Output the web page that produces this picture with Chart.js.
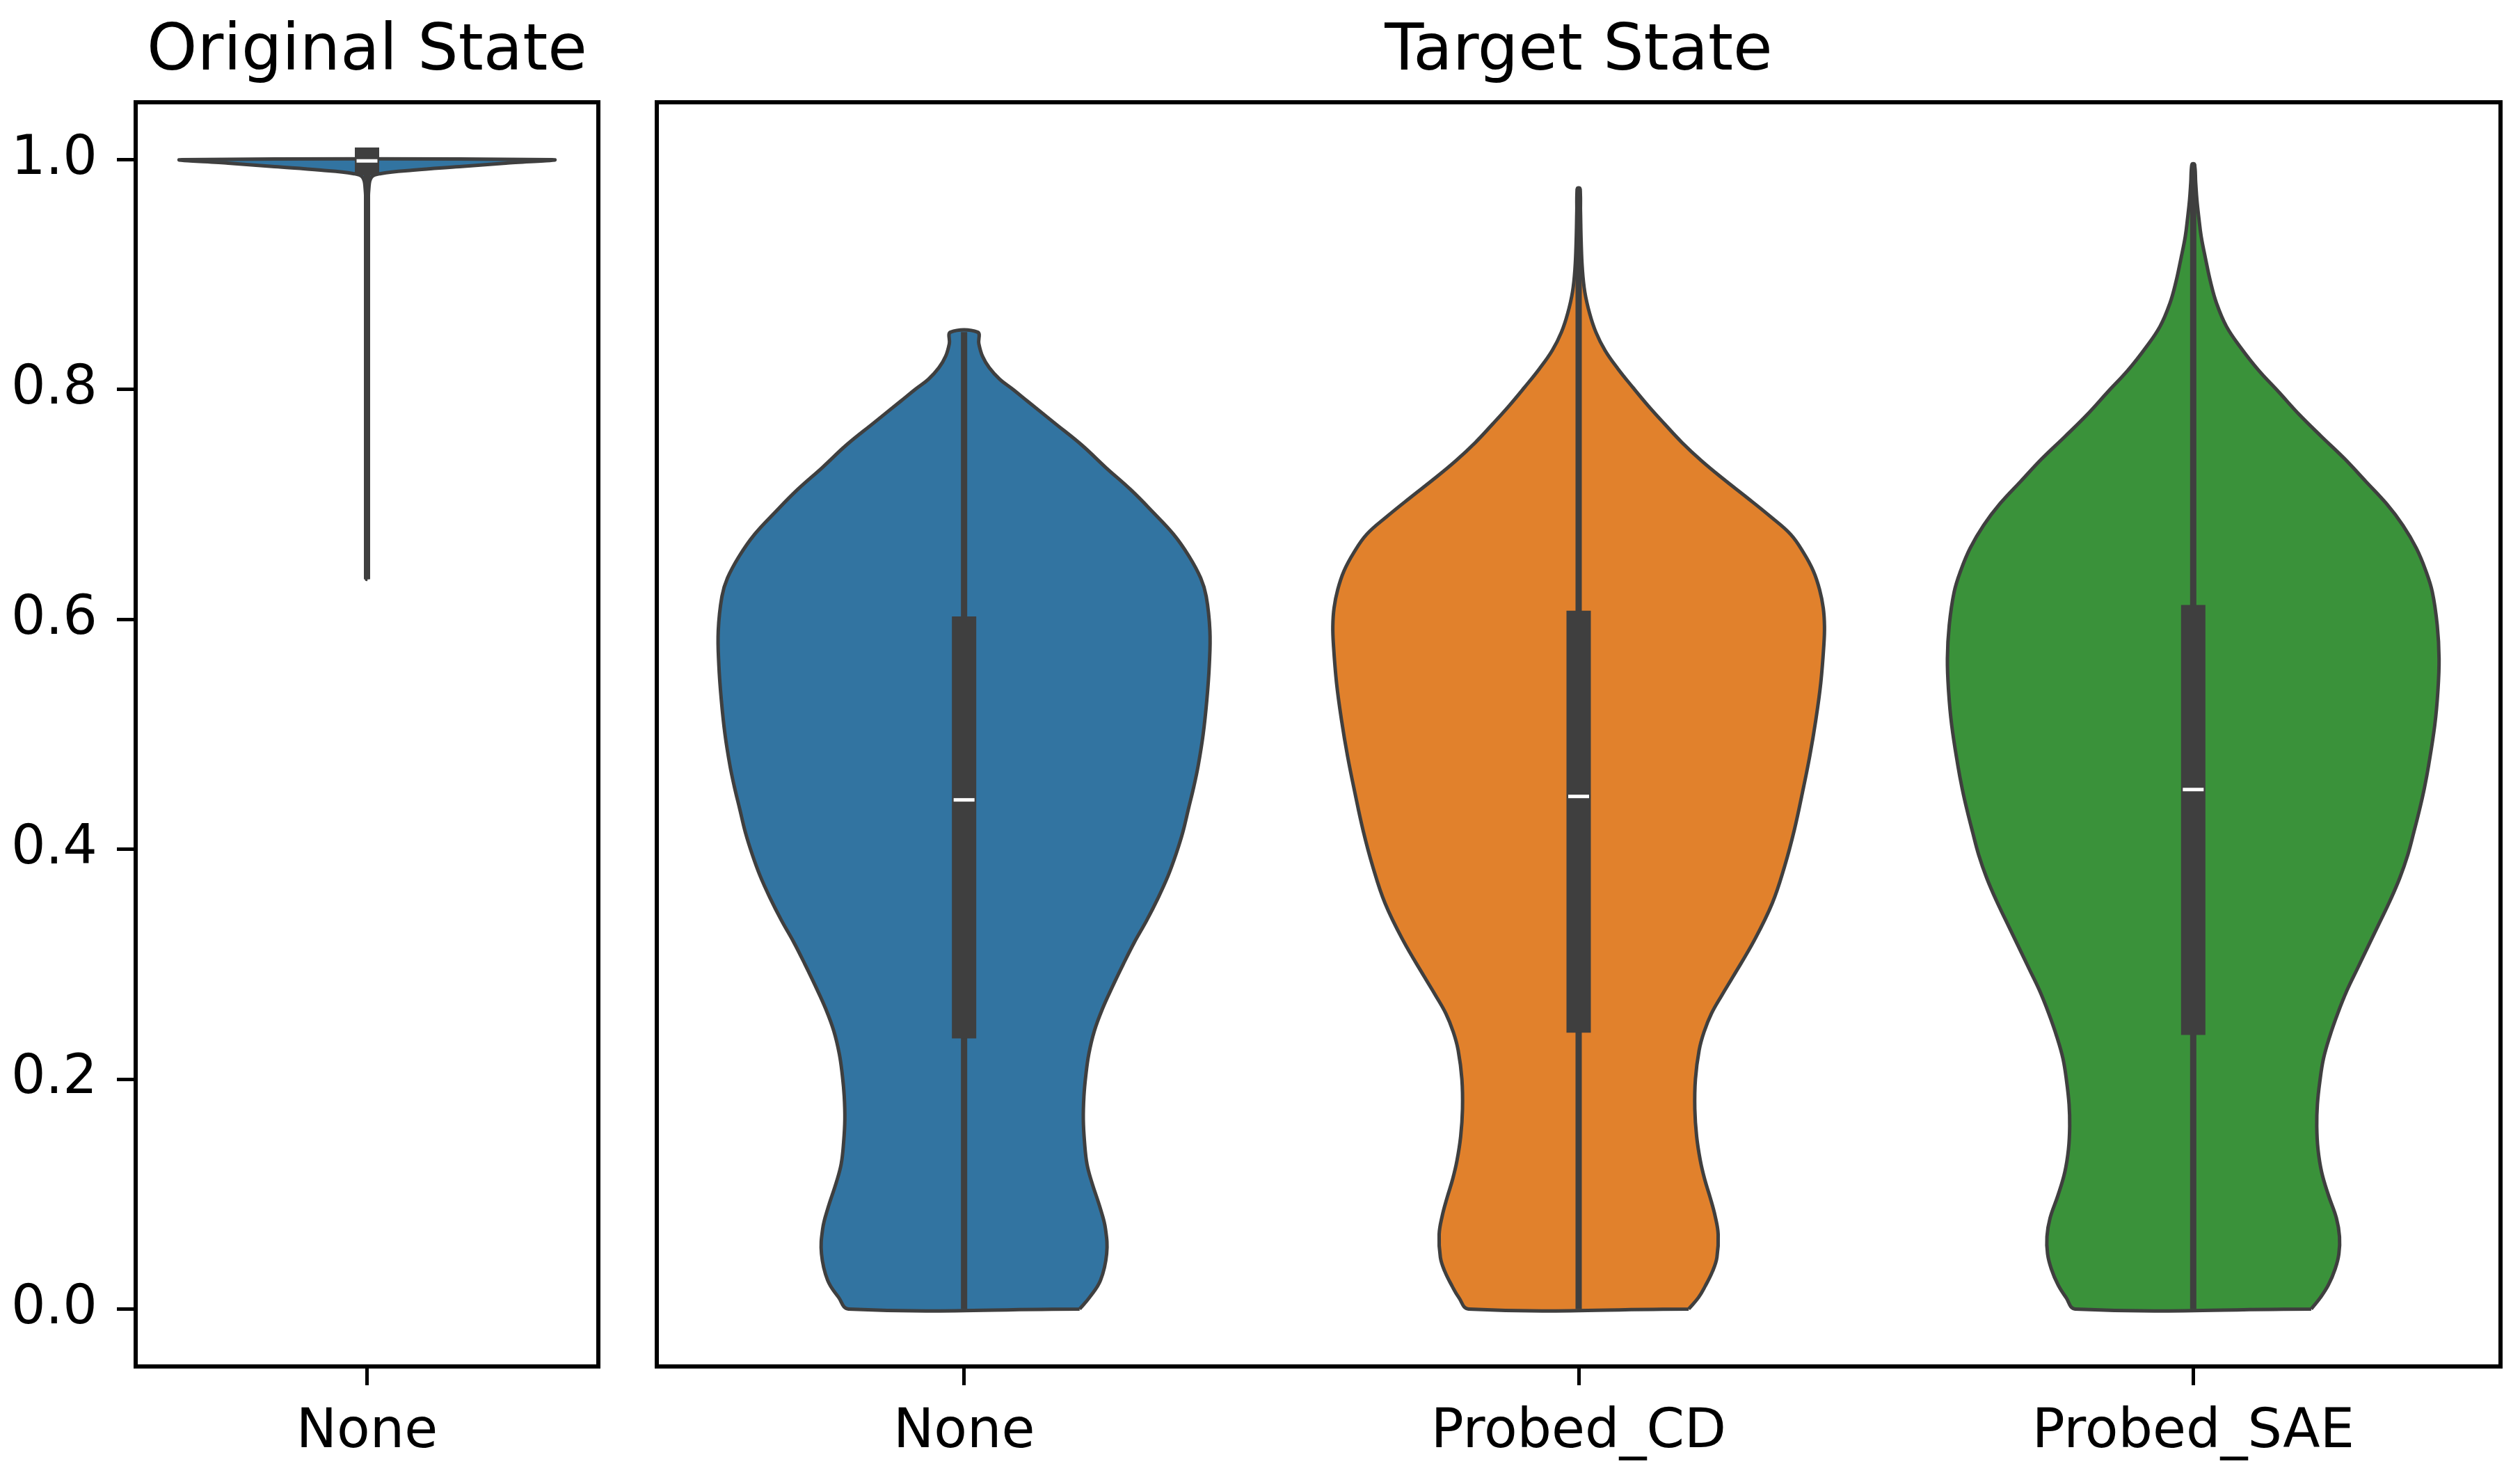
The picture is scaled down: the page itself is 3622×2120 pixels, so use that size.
<!DOCTYPE html>
<html>
<head>
<meta charset="utf-8">
<script src="https://cdn.jsdelivr.net/npm/chart.js@4.4.0/dist/chart.umd.min.js"></script>
<style>
  body { margin: 0; background: #fff; }
  .panel { position: absolute; top: 0; height: 2120px; }
</style>
</head>
<body>
<div class="panel" style="left:0;width:880px"><canvas id="origChart"></canvas></div>
<div class="panel" style="left:880px;width:2742px"><canvas id="targetChart"></canvas></div>
<script>
// categories and tick labels
const origCats = ["None"];
const targetCats = ["None", "Probed_CD", "Probed_SAE"];
const yTicks = [0.0, 0.2, 0.4, 0.6, 0.8, 1.0];
const violinColors = ["#3274a1", "#e1812c", "#3a923a"];

// violin outlines: value along y, half width (category units)
const origNoneY = [0.635, 0.7, 0.8, 0.9, 0.95, 0.975, 0.985, 0.988, 0.991, 0.994, 0.997, 1.0];
const origNoneW = [0.001, 0.001, 0.001, 0.001, 0.002, 0.004, 0.01, 0.03, 0.1, 0.2, 0.3, 0.4];

const noneY = [0, 0.010, 0.025, 0.048, 0.070, 0.087, 0.110, 0.126, 0.145, 0.165, 0.185, 0.203, 0.222, 0.242, 0.261, 0.280, 0.300, 0.319, 0.338, 0.358, 0.377, 0.396, 0.415, 0.435, 0.455, 0.473, 0.500, 0.530, 0.560, 0.590, 0.620, 0.636, 0.655, 0.674, 0.693, 0.713, 0.732, 0.752, 0.771, 0.790, 0.800, 0.809, 0.819, 0.829, 0.840, 0.850];
const noneW = [0.188, 0.204, 0.222, 0.232, 0.230, 0.222, 0.208, 0.200, 0.196, 0.194, 0.195, 0.198, 0.203, 0.212, 0.225, 0.241, 0.259, 0.277, 0.297, 0.316, 0.332, 0.345, 0.356, 0.365, 0.374, 0.381, 0.389, 0.395, 0.399, 0.400, 0.394, 0.385, 0.366, 0.341, 0.308, 0.271, 0.231, 0.191, 0.147, 0.103, 0.080, 0.058, 0.041, 0.030, 0.024, 0.022];

const cdY = [0, 0.010, 0.020, 0.033, 0.045, 0.065, 0.081, 0.097, 0.113, 0.129, 0.150, 0.174, 0.200, 0.225, 0.241, 0.257, 0.273, 0.289, 0.321, 0.353, 0.385, 0.417, 0.449, 0.481, 0.513, 0.545, 0.578, 0.594, 0.610, 0.626, 0.642, 0.658, 0.674, 0.690, 0.706, 0.722, 0.738, 0.754, 0.770, 0.786, 0.802, 0.818, 0.834, 0.850, 0.866, 0.885, 0.905, 0.930, 0.955, 0.975];
const cdW = [0.179, 0.195, 0.206, 0.218, 0.225, 0.227, 0.222, 0.214, 0.205, 0.198, 0.192, 0.189, 0.190, 0.196, 0.204, 0.216, 0.233, 0.251, 0.286, 0.315, 0.335, 0.351, 0.364, 0.376, 0.386, 0.394, 0.399, 0.400, 0.398, 0.392, 0.382, 0.366, 0.345, 0.311, 0.274, 0.236, 0.200, 0.168, 0.140, 0.113, 0.088, 0.064, 0.043, 0.028, 0.018, 0.010, 0.006, 0.004, 0.003, 0.002];

const saeY = [0, 0.010, 0.021, 0.035, 0.048, 0.063, 0.079, 0.099, 0.119, 0.139, 0.159, 0.178, 0.198, 0.218, 0.237, 0.257, 0.277, 0.296, 0.316, 0.336, 0.355, 0.375, 0.395, 0.415, 0.434, 0.453, 0.473, 0.508, 0.537, 0.566, 0.595, 0.624, 0.643, 0.662, 0.682, 0.701, 0.720, 0.740, 0.759, 0.778, 0.798, 0.817, 0.836, 0.855, 0.875, 0.894, 0.914, 0.933, 0.950, 0.965, 0.980, 0.996];
const saeW = [0.192, 0.207, 0.220, 0.231, 0.237, 0.238, 0.233, 0.220, 0.209, 0.203, 0.201, 0.202, 0.206, 0.212, 0.222, 0.235, 0.250, 0.267, 0.285, 0.303, 0.320, 0.336, 0.349, 0.359, 0.368, 0.376, 0.383, 0.393, 0.398, 0.400, 0.397, 0.389, 0.378, 0.363, 0.341, 0.314, 0.281, 0.246, 0.209, 0.173, 0.139, 0.106, 0.078, 0.054, 0.038, 0.028, 0.020, 0.013, 0.009, 0.006, 0.004, 0.002];

// inner box stats: [min, q1, median, q3, max]
const origNoneStats = [0.635, 0.997, 0.999, 1.0, 1.0];
const noneStats = [0.0, 0.246, 0.443, 0.592, 0.850];
const cdStats = [0.0, 0.251, 0.446, 0.597, 0.975];
const saeStats = [0.0, 0.249, 0.452, 0.602, 0.996];

const lineColor = "#3f3f3f";
Chart.defaults.font.family = "'DejaVu Sans', sans-serif";
Chart.defaults.color = "#000";

// closed outline for one violin around category position c
function violinPoints(c, ys, ws) {
  const pts = [];
  for (let i = 0; i < ys.length; i++) pts.push({ x: c + ws[i], y: ys[i] });
  for (let i = ys.length - 1; i >= 0; i--) pts.push({ x: c - ws[i], y: ys[i] });
  pts.push(pts[0]);
  return pts;
}

function violinDatasets(c, ys, ws, stats, color) {
  return [
    {
      data: violinPoints(c, ys, ws),
      backgroundColor: color,
      borderColor: lineColor,
      borderWidth: 5,
      fill: "shape",
      tension: 0.4,
      pointRadius: 0,
      order: 3,
    },
    {
      // whisker
      data: [{ x: c, y: stats[0] }, { x: c, y: stats[4] }],
      borderColor: lineColor,
      borderWidth: 9,
      borderCapStyle: "butt",
      pointRadius: 0,
      fill: false,
      order: 2,
    },
    {
      // box
      data: [{ x: c, y: stats[1] }, { x: c, y: stats[3] }],
      borderColor: lineColor,
      borderWidth: 35,
      borderCapStyle: "square",
      pointRadius: 0,
      fill: false,
      order: 1,
    },
    {
      // median
      data: [{ x: c, y: stats[2] }],
      showLine: false,
      pointStyle: "line",
      pointRadius: 15,
      pointBorderWidth: 5,
      pointBorderColor: "#fff",
      order: 0,
    },
  ];
}

// draws the top and right spines too
const framePlugin = {
  id: "frame",
  afterDraw(chart) {
    const a = chart.chartArea;
    const ctx = chart.ctx;
    ctx.save();
    ctx.strokeStyle = "#000";
    ctx.lineWidth = 6;
    ctx.strokeRect(a.left, a.top, a.right - a.left, a.bottom - a.top);
    ctx.restore();
  },
};

// title centred over the plot area, not the whole canvas
function panelTitle(text) {
  return {
    id: "panelTitle",
    afterDraw(chart) {
      const a = chart.chartArea;
      const ctx = chart.ctx;
      ctx.save();
      ctx.font = "92px 'DejaVu Sans', sans-serif";
      ctx.fillStyle = "#000";
      ctx.textAlign = "center";
      ctx.textBaseline = "middle";
      ctx.fillText(text, (a.left + a.right) / 2, 76);
      ctx.restore();
    },
  };
}

function makeChart(canvasId, title, cats, datasets, yAxisWidth, padRight, showY) {
  return new Chart(document.getElementById(canvasId), {
    type: "line",
    data: { datasets: datasets },
    plugins: [framePlugin, panelTitle(title)],
    options: {
      responsive: true,
      maintainAspectRatio: false,
      animation: false,
      layout: { padding: { left: 0, right: padRight, top: 147, bottom: 0 } },
      plugins: {
        legend: { display: false },
        tooltip: { enabled: false },
        title: { display: false },
      },
      scales: {
        x: {
          type: "linear",
          min: -0.5,
          max: cats.length - 0.5,
          afterBuildTicks: (axis) => {
            axis.ticks = cats.map((c, i) => ({ value: i }));
          },
          afterFit: (axis) => {
            axis.height = 156;
          },
          ticks: {
            callback: (v) => cats[v],
            font: { size: 78 },
            color: "#000",
            padding: 22,
            maxRotation: 0,
            autoSkip: false,
          },
          grid: {
            display: true,
            drawOnChartArea: false,
            drawTicks: true,
            tickLength: 27,
            tickWidth: 5,
            tickColor: "#000",
          },
          border: { display: true, color: "#000", width: 6 },
        },
        y: {
          type: "linear",
          min: -0.05,
          max: 1.05,
          afterBuildTicks: (axis) => {
            axis.ticks = yTicks.map((v) => ({ value: v }));
          },
          afterFit: (axis) => {
            axis.width = yAxisWidth;
          },
          ticks: {
            display: showY,
            callback: (v) => v.toFixed(1),
            font: { size: 78 },
            color: "#000",
            padding: 28,
          },
          grid: {
            display: showY,
            drawOnChartArea: false,
            drawTicks: true,
            tickLength: 27,
            tickWidth: 5,
            tickColor: "#000",
          },
          border: { display: true, color: "#000", width: 6 },
        },
      },
    },
  });
}

// left panel: original state
makeChart(
  "origChart",
  "Original State",
  origCats,
  violinDatasets(0, origNoneY, origNoneW, origNoneStats, violinColors[0]),
  195,
  19,
  true
);

// right panel: target state
const targetSets = []
  .concat(violinDatasets(0, noneY, noneW, noneStats, violinColors[0]))
  .concat(violinDatasets(1, cdY, cdW, cdStats, violinColors[1]))
  .concat(violinDatasets(2, saeY, saeW, saeStats, violinColors[2]));
makeChart("targetChart", "Target State", targetCats, targetSets, 64, 28, false);
</script>
</body>
</html>
